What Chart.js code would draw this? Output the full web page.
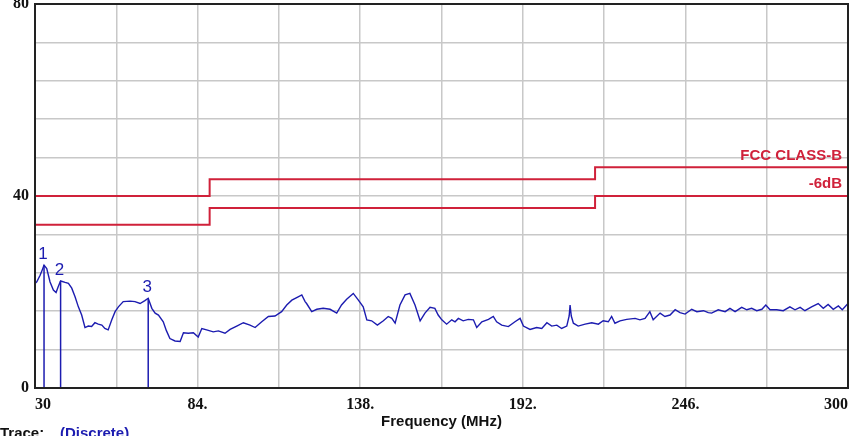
<!DOCTYPE html>
<html>
<head>
<meta charset="utf-8">
<script src="https://cdn.jsdelivr.net/npm/chart.js@4.4.0/dist/chart.umd.min.js"></script>
<style>
  html, body { margin: 0; padding: 0; background: #fff; }
  #wrap { width: 860px; height: 436px; }
</style>
</head>
<body>
<div id="wrap"><canvas id="emi" width="860" height="436"></canvas></div>
<script>
// Datos del barrido (MHz, dBuV/m)
const traceFreq = [
  30.0, 30.6, 31.7, 32.4, 33.0, 33.9, 35.0, 36.1, 37.0, 37.7, 38.5, 40.0, 41.1, 42.2, 43.3, 44.4,
  45.5, 46.6, 47.7, 48.8, 49.9, 51.0, 52.2, 53.2, 54.3, 55.5, 56.6, 57.7, 59.3, 61.6, 63.2, 64.9,
  66.5, 67.6, 68.8, 69.9, 71.0, 72.6, 73.6, 74.8, 76.5, 78.2, 79.3, 80.9, 82.6, 84.2, 85.4, 87.0,
  89.2, 90.9, 93.1, 94.8, 97.0, 99.2, 101.4, 103.1, 105.3, 107.5, 109.7, 111.9, 113.6, 115.3, 117.4, 118.6,
  119.7, 120.2, 121.9, 123.6, 125.7, 128.0, 130.2, 131.8, 133.5, 135.7, 137.4, 139.0, 140.2, 141.8, 143.7, 145.7,
  147.3, 148.5, 149.6, 151.2, 152.9, 154.5, 156.2, 157.9, 159.5, 161.2, 162.8, 163.9, 165.1, 166.7, 168.4, 169.5,
  170.6, 172.2, 173.9, 175.6, 176.7, 178.4, 180.6, 182.2, 183.3, 185.0, 187.2, 189.4, 191.1, 192.2, 194.4, 196.6,
  198.3, 200.0, 201.6, 203.3, 204.9, 206.6, 207.4, 207.7, 208.1, 208.8, 210.4, 212.7, 214.9, 217.1, 218.7, 220.4,
  221.5, 222.6, 224.3, 226.5, 229.3, 230.9, 232.6, 234.2, 235.3, 237.6, 239.2, 240.9, 242.6, 244.2, 245.9, 248.1,
  249.8, 252.0, 253.6, 254.7, 256.9, 259.2, 260.8, 262.5, 264.7, 266.4, 268.0, 269.7, 271.4, 272.7, 274.1, 276.3,
  278.5, 280.7, 282.4, 284.1, 285.7, 287.9, 290.1, 291.8, 293.4, 295.1, 296.8, 298.1, 300.0
];
const traceLevel = [
  21.8, 22.1, 23.5, 24.6, 25.6, 24.9, 22.1, 20.4, 19.9, 21.1, 22.3, 22.0, 21.8, 20.8, 19.0, 16.9,
  15.2, 12.6, 12.9, 12.8, 13.6, 13.3, 13.1, 12.4, 12.1, 14.2, 15.9, 16.9, 18.0, 18.1, 18.0, 17.6,
  18.2, 18.7, 16.6, 15.6, 15.2, 13.8, 12.0, 10.3, 9.8, 9.7, 11.5, 11.4, 11.5, 10.6, 12.4, 12.1,
  11.7, 11.9, 11.4, 12.2, 12.9, 13.6, 13.1, 12.6, 13.8, 14.9, 15.0, 15.9, 17.3, 18.3, 19.0, 19.4,
  18.0, 17.6, 15.9, 16.4, 16.6, 16.4, 15.6, 17.3, 18.5, 19.7, 18.3, 16.9, 14.2, 14.0, 13.1, 14.0,
  14.9, 14.5, 13.5, 17.3, 19.4, 19.7, 17.3, 14.0, 15.6, 16.8, 16.6, 15.2, 14.2, 13.3, 14.2, 13.8,
  14.5, 14.0, 14.3, 14.2, 12.6, 13.8, 14.3, 14.9, 13.8, 13.1, 12.8, 13.8, 14.5, 12.9, 12.2, 12.6,
  12.4, 13.6, 12.9, 13.1, 12.4, 12.9, 15.0, 17.3, 15.0, 13.5, 12.9, 13.3, 13.6, 13.3, 14.0, 13.8,
  14.9, 13.5, 14.0, 14.3, 14.5, 14.2, 14.5, 15.9, 14.2, 15.6, 14.9, 15.2, 16.3, 15.7, 15.4, 16.4,
  15.9, 16.1, 15.7, 15.6, 16.3, 15.9, 16.6, 15.9, 16.8, 16.3, 16.6, 16.1, 16.4, 17.3, 16.3, 16.3,
  16.1, 16.9, 16.3, 16.8, 16.1, 16.9, 17.6, 16.6, 17.4, 16.4, 17.1, 16.3, 17.6
];

// Límites FCC clase B y margen de -6 dB
const limitFreq = [30, 88, 216, 300];
const classB = [40, 43.5, 46, 46];
const classBMargin = [34, 37.5, 40, 40];
const limitLabels = ['FCC CLASS-B', '-6dB'];

// Marcadores
const markerFreq = [33.0, 38.5, 67.6];
const markerLevel = [25.6, 22.3, 18.7];
const markerLabels = ['1', '2', '3'];

// Ejes
const xMin = 30, xMax = 300, xStep = 27;
const yMin = 0, yMax = 80, yStep = 8;
const yLabelled = [0, 40, 80];
const xLabelled = [30, 84, 138, 192, 246, 300];

const RED = '#d0213a';
const BLUE = '#1c1cb0';

const toPoints = (xs, ys) => xs.map((x, i) => ({x: x, y: ys[i]}));

const datasets = [
  {
    label: 'FCC CLASS-B',
    data: toPoints(limitFreq, classB),
    borderColor: RED, borderWidth: 2, stepped: 'before', pointRadius: 0
  },
  {
    label: '-6dB',
    data: toPoints(limitFreq, classBMargin),
    borderColor: RED, borderWidth: 2, stepped: 'before', pointRadius: 0
  },
  {
    label: 'Trace',
    data: toPoints(traceFreq, traceLevel),
    borderColor: BLUE, borderWidth: 1.4, pointRadius: 0, tension: 0
  }
];
markerFreq.forEach((f, i) => {
  datasets.push({
    label: 'M' + markerLabels[i],
    data: [{x: f, y: 0}, {x: f, y: markerLevel[i]}],
    borderColor: BLUE, borderWidth: 1.5, pointRadius: 0
  });
});

// Marco negro y textos sobre el área del gráfico
const decorPlugin = {
  id: 'decor',
  afterDatasetsDraw(chart) {
    const {ctx, chartArea: a, scales: {x, y}} = chart;
    ctx.save();
    ctx.strokeStyle = '#222';
    ctx.lineWidth = 2;
    ctx.strokeRect(a.left, a.top, a.right - a.left, a.bottom - a.top);

    // Etiquetas de los límites
    ctx.fillStyle = RED;
    ctx.font = 'bold 15px "Liberation Sans", Arial, sans-serif';
    ctx.textAlign = 'right';
    ctx.textBaseline = 'middle';
    ctx.fillText(limitLabels[0], a.right - 6, y.getPixelForValue(classB[3]) - 11);
    ctx.fillText(limitLabels[1], a.right - 6, y.getPixelForValue(classBMargin[3]) - 12);

    // Números de los marcadores
    ctx.fillStyle = BLUE;
    ctx.font = '17px "Liberation Sans", Arial, sans-serif';
    ctx.textAlign = 'center';
    ctx.textBaseline = 'bottom';
    markerFreq.forEach((f, i) => {
      ctx.fillText(markerLabels[i], x.getPixelForValue(f) - 1, y.getPixelForValue(markerLevel[i]) - 2);
    });

    // Leyenda de la traza (abajo a la izquierda)
    ctx.font = 'bold 15px "Liberation Sans", Arial, sans-serif';
    ctx.textAlign = 'left';
    ctx.textBaseline = 'middle';
    ctx.fillStyle = '#111';
    ctx.fillText('Trace:', 0, 434);
    ctx.fillStyle = BLUE;
    ctx.fillText('(Discrete)', 60, 434);
    ctx.restore();
  }
};

new Chart(document.getElementById('emi'), {
  type: 'line',
  data: {datasets: datasets},
  options: {
    responsive: false,
    animation: false,
    devicePixelRatio: 1,
    layout: {padding: {left: 0, right: 12, top: 4, bottom: 0}},
    plugins: {legend: {display: false}, tooltip: {enabled: false}},
    scales: {
      x: {
        type: 'linear',
        min: xMin, max: xMax,
        border: {display: false},
        grid: {color: '#c8c8c8', lineWidth: 1.5, drawTicks: false},
        ticks: {
          stepSize: xStep,
          autoSkip: false,
          maxRotation: 0,
          align: 'inner',
          padding: 7,
          color: '#111',
          font: {family: '"Liberation Serif", "Times New Roman", serif', weight: 'bold', size: 16},
          callback: v => {
            if (!xLabelled.includes(v)) return '';
            return (v === xMin || v === xMax) ? String(v) : v + '.';
          }
        },
        title: {
          display: true,
          text: 'Frequency (MHz)',
          color: '#111',
          font: {family: '"Liberation Sans", Arial, sans-serif', weight: 'bold', size: 15},
          padding: {top: 0, bottom: 5}
        },
        afterFit: s => { s.height = 48; s.paddingLeft = 0; s.paddingRight = 0; }
      },
      y: {
        min: yMin, max: yMax,
        border: {display: false},
        grid: {color: '#c8c8c8', lineWidth: 1.5, drawTicks: false},
        ticks: {
          stepSize: yStep,
          autoSkip: false,
          padding: 6,
          color: '#111',
          font: {family: '"Liberation Serif", "Times New Roman", serif', weight: 'bold', size: 16},
          callback: v => (yLabelled.includes(v) ? String(v) : '')
        },
        afterFit: s => { s.width = 35; s.paddingTop = 0; s.paddingBottom = 0; }
      }
    }
  },
  plugins: [decorPlugin]
});
</script>
</body>
</html>
